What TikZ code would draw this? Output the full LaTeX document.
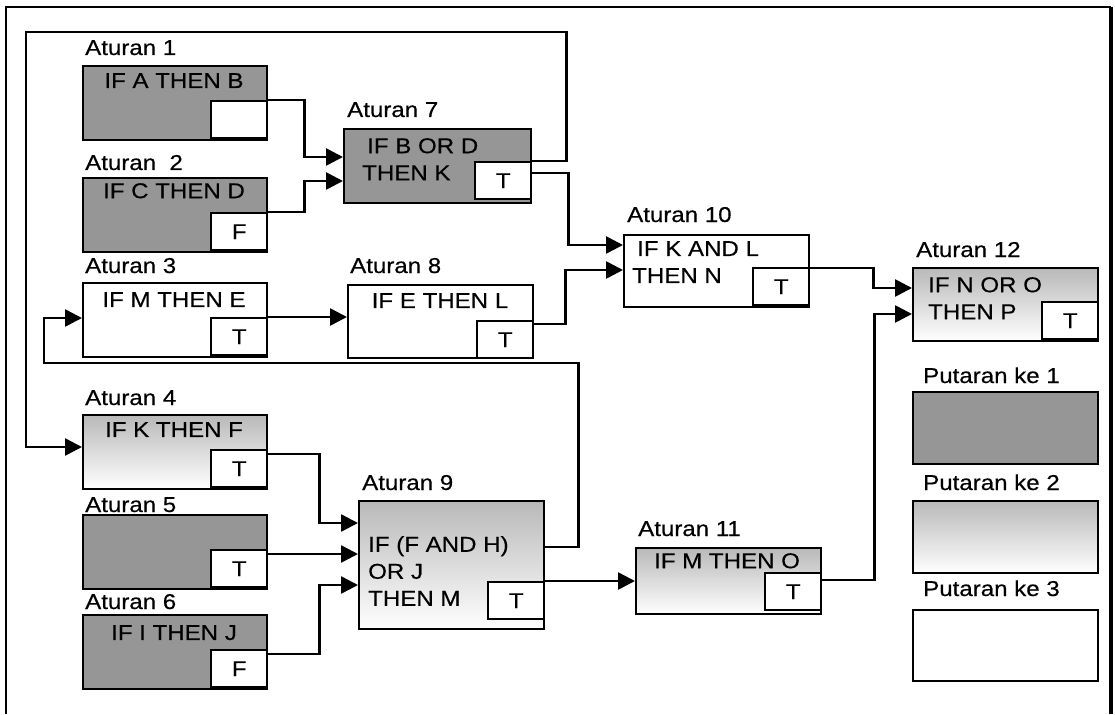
\documentclass[tikz,border=0pt]{standalone}
\usepackage{fontspec}
\setmainfont{Liberation Sans}[FakeStretch=1.12,FakeBold=0.4]
\usetikzlibrary{arrows.meta,calc}
\definecolor{rulegray}{RGB}{150,150,150}
\definecolor{shadetop}{RGB}{185,185,185}

\begin{document}
\begin{tikzpicture}[
  x=1pt,y=-1pt,
  every node/.style={font=\fontsize{21.5}{27}\selectfont,inner sep=0pt},
  rulebox/.style={draw,line width=2.4pt,anchor=north west,
                  minimum width=184pt,minimum height=74pt},
  darkbox/.style={rulebox,fill=rulegray},
  shadebox/.style={rulebox,top color=shadetop,bottom color=white},
  plainbox/.style={rulebox,fill=white},
  tbox/.style={draw,line width=2.4pt,fill=white,anchor=south east,
               minimum width=56pt,minimum height=37pt},
  rulelabel/.style={anchor=base west},
  ruletext/.style={anchor=north},
  multitext/.style={anchor=north west,align=left},
  arr/.style={-{Triangle[length=17pt,width=17pt]},line width=2.6pt},
]
  \useasboundingbox (0,0) rectangle (1115,714);

  % Frame
  \draw[line width=2.4pt] (6,714) -- (6,7) -- (1111,7);
  \draw[line width=3.6pt] (1111,7) -- (1111,714);

  % Rules, first column
  \node[darkbox] (r1) at (82,65) {};
  \node[tbox,yshift=2pt] (t1) at (r1.south east) {};
  \node[darkbox] (r2) at (82,177) {};
  \node[tbox,yshift=2pt] (t2) at (r2.south east) {F};
  \node[plainbox] (r3) at (82,282) {};
  \node[tbox,yshift=2pt] (t3) at (r3.south east) {T};
  \node[shadebox] (r4) at (82,414) {};
  \node[tbox,yshift=2pt] (t4) at (r4.south east) {T};
  \node[darkbox] (r5) at (82,514) {};
  \node[tbox,yshift=2pt] (t5) at (r5.south east) {T};
  \node[darkbox] (r6) at (82,614) {};
  \node[tbox,yshift=2pt] (t6) at (r6.south east) {F};

  % Rules, second column
  \node[darkbox,minimum width=187pt] (r7) at (343,128) {};
  \node[tbox,yshift=4pt] (t7) at (r7.south east) {T};
  \node[plainbox,minimum width=185pt,minimum height=73pt] (r8) at (347,284) {};
  \node[tbox] (t8) at (r8.south east) {T};
  \node[shadebox,minimum width=185pt,minimum height=128pt] (r9) at (358,500) {};
  \node[tbox,yshift=10pt] (t9) at (r9.south east) {T};

  % Rules, third column
  \node[plainbox,minimum width=185pt,minimum height=72pt] (r10) at (623,234) {};
  \node[tbox,yshift=2pt] (t10) at (r10.south east) {T};
  \node[shadebox,minimum width=185pt,minimum height=66pt] (r11) at (635,547) {};
  \node[tbox,yshift=4pt] (t11) at (r11.south east) {T};
  \node[shadebox,minimum width=185pt,minimum height=73pt] (r12) at (912,267) {};
  \node[tbox,yshift=2pt] (t12) at (r12.south east) {T};

  % Legend
  \node[darkbox,minimum width=185pt,minimum height=72pt] (p1) at (912,391) {};
  \node[shadebox,minimum width=185pt,minimum height=72pt] (p2) at (912,500) {};
  \node[plainbox,minimum width=185pt,minimum height=71pt] (p3) at (912,609) {};

  % Labels
  \node[rulelabel] (l1) at (85,55) {Aturan 1};
  \node[rulelabel] (l2) at (85,170) {Aturan\ \ 2};
  \node[rulelabel] (l3) at (85,273) {Aturan 3};
  \node[rulelabel] (l4) at (85,405) {Aturan 4};
  \node[rulelabel] (l5) at (85,512) {Aturan 5};
  \node[rulelabel] (l6) at (85,609) {Aturan 6};
  \node[rulelabel] (l7) at (347,117) {Aturan 7};
  \node[rulelabel] (l8) at (350,273) {Aturan 8};
  \node[rulelabel] (l9) at (362,490) {Aturan 9};
  \node[rulelabel] (l10) at (627,222) {Aturan 10};
  \node[rulelabel] (l11) at (638,536) {Aturan 11};
  \node[rulelabel] (l12) at (916,257) {Aturan 12};
  \node[rulelabel] (lp1) at (923,383) {Putaran ke 1};
  \node[rulelabel] (lp2) at (923,490) {Putaran ke 2};
  \node[rulelabel] (lp3) at (923,596) {Putaran ke 3};

  % Rule texts
  \node[ruletext] (x1) at (174,73) {IF A THEN B};
  \node[ruletext] (x2) at (174,183) {IF C THEN D};
  \node[ruletext] (x3) at (174,292) {IF M THEN E};
  \node[ruletext] (x4) at (174,422) {IF K THEN F};
  \node[ruletext] (x6) at (174,625) {IF I THEN J};
  \node[multitext] (x7) at (362,138) {\hspace*{5pt}IF B OR D\\THEN K};
  \node[ruletext] (x8) at (440,293) {IF E THEN L};
  \node[multitext] (x9) at (368,536) {IF (F AND H)\\OR J\\THEN M};
  \node[multitext] (x10) at (632,241) {\hspace*{5pt}IF K AND L\\THEN N};
  \node[ruletext] (x11) at (727,553) {IF M THEN O};
  \node[multitext] (x12) at (928,277) {IF N OR O\\THEN P};

  % Connectors
  \coordinate (loopa) at (26,32);
  \coordinate (loopb) at (44,363);
  \draw[arr] (t1.north east) -- ++(36,0) |- ($(r7.north west)+(0,29)$);
  \draw[arr] (t2.north east) -- ++(36,0) |- ($(r7.north west)+(0,53)$);
  \draw[arr] (t7.north east) -- ++(34,0) |- (loopa) |- ($(r4.north west)+(0,33)$);
  \draw[arr] ($(t7.north east)+(0,12)$) -- ++(36,0) |- ($(r10.north west)+(0,11)$);
  \draw[arr] ($(t8.north east)+(0,4)$) -- ++(31,0) |- ($(r10.north west)+(0,36)$);
  \draw[arr] (t3.north east) -- ($(r8.north west)+(0,33)$);
  \draw[arr] ($(r9.north east)+(0,47)$) -- ++(33,0) |- (loopb) |- ($(r3.north west)+(0,36)$);
  \draw[arr] ($(t4.north east)+(0,5)$) -- ++(51,0) |- ($(r9.north west)+(0,23)$);
  \draw[arr] ($(t5.north east)+(0,5)$) -- ($(r9.north west)+(0,54)$);
  \draw[arr] ($(t6.north east)+(0,5)$) -- ++(51,0) |- ($(r9.north west)+(0,85)$);
  \draw[arr] (t9.north east) -- ($(r11.north west)+(0,34)$);
  \draw[arr] ($(t11.north east)+(0,8)$) -- ++(52,0) |- ($(r12.north west)+(0,47)$);
  \draw[arr] ($(t10.north east)+(0,1)$) -- ++(63,0) |- ($(r12.north west)+(0,21)$);
\end{tikzpicture}
\end{document}
